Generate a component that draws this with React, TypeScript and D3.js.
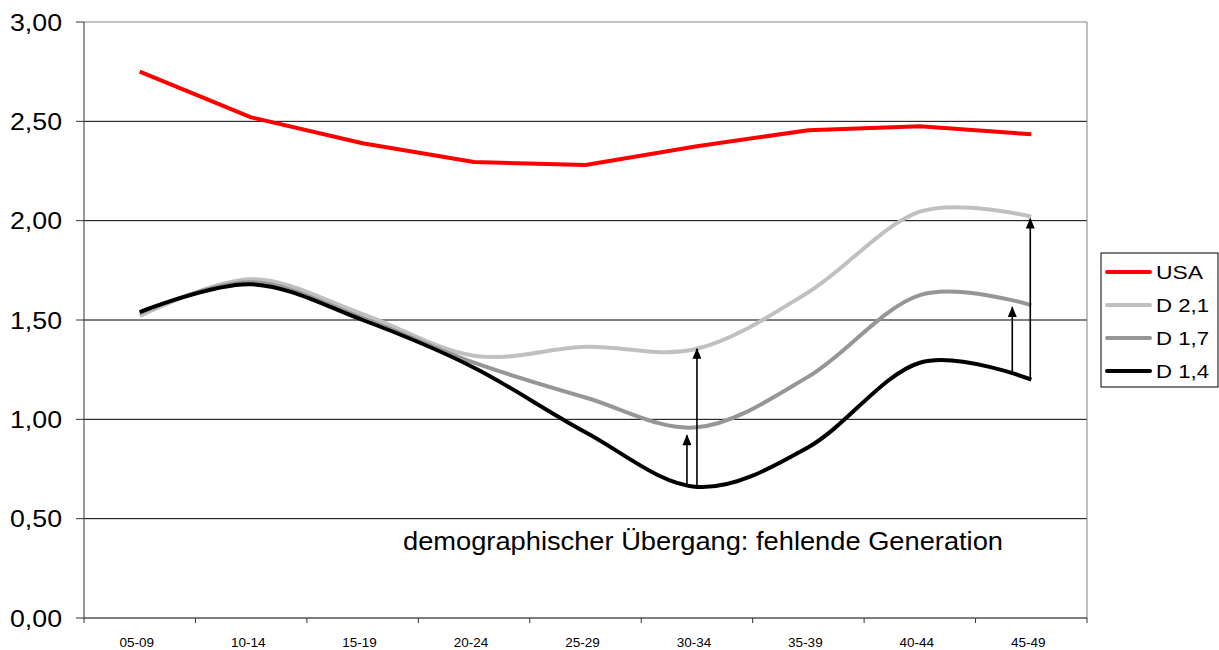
import React from "react";
import * as d3 from "d3";

const categories = ["05-09", "10-14", "15-19", "20-24", "25-29", "30-34", "35-39", "40-44", "45-49"];
const usa = [2.75, 2.52, 2.39, 2.295, 2.28, 2.375, 2.455, 2.475, 2.435];
const d21 = [1.52, 1.705, 1.53, 1.32, 1.365, 1.355, 1.64, 2.045, 2.02];
const d17 = [1.535, 1.69, 1.51, 1.285, 1.11, 0.96, 1.215, 1.625, 1.575];
const d14 = [1.54, 1.68, 1.5, 1.26, 0.935, 0.66, 0.86, 1.285, 1.2];
const yTicks = [0, 0.5, 1, 1.5, 2, 2.5, 3];
const seriesNames = ["USA", "D 2,1", "D 1,7", "D 1,4"];
const seriesColors = ["#ff0000", "#c0c0c0", "#969696", "#000000"];
const annotation = "demographischer Übergang: fehlende Generation";
// arrows: category, pixel offset from category centre, from value, to value
const arrows = [
  { cat: "30-34", dx: -10, from: 0.665, to: 0.92 },
  { cat: "30-34", dx: 0, from: 0.66, to: 1.355 },
  { cat: "45-49", dx: -19, from: 1.225, to: 1.565 },
  { cat: "45-49", dx: -1, from: 1.2, to: 2.01 },
];

const W = 1219, H = 650;
const L = 84, R = 1087, T = 22, B = 618;

export default function App() {
  const x = d3.scaleBand<string>().domain(categories).range([L, R]);
  const cx = (c: string) => (x(c) as number) + x.bandwidth() / 2;
  const y = d3.scaleLinear().domain([0, 3]).range([B, T]);
  const series = [usa, d21, d17, d14];
  const lineLinear = d3.line<number>().x((_, i) => cx(categories[i])).y((v) => y(v));
  const lineSmooth = d3.line<number>().x((_, i) => cx(categories[i])).y((v) => y(v)).curve(d3.curveCardinal.tension(0));
  const font = "Liberation Sans, Arial, sans-serif";

  return (
    <svg width={W} height={H} style={{ position: "fixed", left: 0, top: 0, background: "#fff" }} fontFamily={font}>
      <defs>
        <marker id="ah" viewBox="0 0 12 10" refX="11" refY="5" markerWidth="12" markerHeight="9" orient="auto" markerUnits="userSpaceOnUse">
          <path d="M0,0 L12,5 L0,10 z" fill="#000" />
        </marker>
      </defs>
      {/* gridlines */}
      {yTicks.filter((t) => t > 0).map((t) => (
        <line key={t} x1={L} x2={R} y1={y(t)} y2={y(t)} stroke={t === 3 ? "#808080" : "#000"} strokeWidth={1} />
      ))}
      {/* plot border right */}
      <line x1={R} x2={R} y1={T} y2={B} stroke="#808080" strokeWidth={1} />
      {/* y axis */}
      <line x1={L} x2={L} y1={T} y2={B + 5} stroke="#333" strokeWidth={1} />
      {yTicks.map((t) => (
        <g key={t}>
          <line x1={L - 8} x2={L} y1={y(t)} y2={y(t)} stroke="#333" />
          <text x={62} y={y(t)} dy="0.36em" textAnchor="end" fontSize={24} fill="#000" textLength={52} lengthAdjust="spacingAndGlyphs">
            {d3.format(".2f")(t).replace(".", ",")}
          </text>
        </g>
      ))}
      {/* x axis */}
      <line x1={L} x2={R} y1={B} y2={B} stroke="#000" strokeWidth={1.2} />
      {categories.map((c) => (
        <g key={c}>
          <line x1={(x(c) as number) + x.bandwidth()} x2={(x(c) as number) + x.bandwidth()} y1={B} y2={B + 5} stroke="#333" />
          <text x={cx(c) - 3} y={647} textAnchor="middle" fontSize={13.5} fill="#000">{c}</text>
        </g>
      ))}
      {/* series */}
      {series.map((s, i) => (
        <path key={i} d={(i === 0 ? lineLinear : lineSmooth)(s) as string} fill="none" stroke={seriesColors[i]} strokeWidth={4} strokeLinejoin="round" />
      ))}
      {/* arrows */}
      {arrows.map((a, i) => (
        <line key={i} x1={cx(a.cat) + a.dx} x2={cx(a.cat) + a.dx} y1={y(a.from)} y2={y(a.to)} stroke="#000" strokeWidth={1.6} markerEnd="url(#ah)" />
      ))}
      {/* annotation */}
      <text x={403} y={550} fontSize={25} fill="#000" textLength={600} lengthAdjust="spacingAndGlyphs">{annotation}</text>
      {/* legend */}
      <rect x={1101} y={253} width={117} height={134} fill="#fff" stroke="#000" strokeWidth={1} />
      {seriesNames.map((n, i) => (
        <g key={n}>
          <line x1={1107} x2={1150} y1={272 + i * 33} y2={272 + i * 33} stroke={seriesColors[i]} strokeWidth={4} strokeLinecap="round" />
          <text x={1156} y={272 + i * 33} dy="0.36em" fontSize={19} fill="#000" textLength={i === 0 ? 47 : 53} lengthAdjust="spacingAndGlyphs">{n}</text>
        </g>
      ))}
    </svg>
  );
}
